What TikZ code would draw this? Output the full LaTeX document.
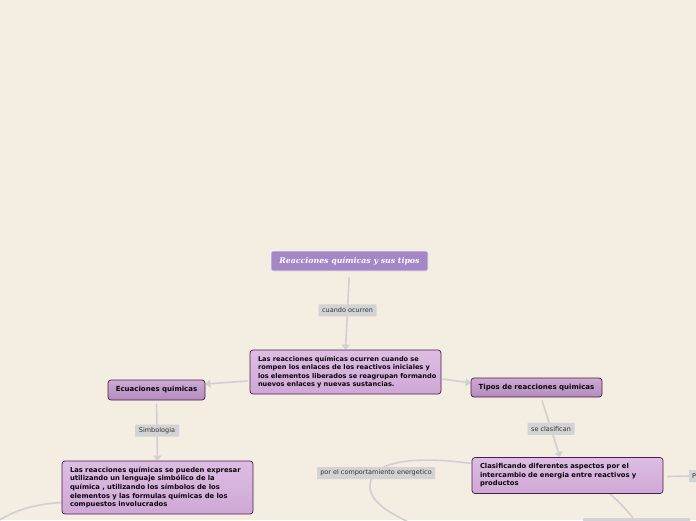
\documentclass[tikz,border=0pt]{standalone}
\usepackage{fontspec}
\setmainfont{DejaVu Sans}
\newfontfamily\titlefont{DejaVu Serif}
\usetikzlibrary{arrows.meta,calc,backgrounds}
\hfuzz=30pt
\definecolor{bg}{HTML}{F3EDE2}
\definecolor{conn}{HTML}{D0D0D0}
\definecolor{lbl}{HTML}{D3D3D3}
\definecolor{lbltext}{HTML}{333333}
\definecolor{titlefill}{HTML}{A387C6}
\definecolor{topicborder}{HTML}{4A1E4A}
\definecolor{topictop}{HTML}{DDBDE3}
\definecolor{topicbot}{HTML}{CFA8D6}
\definecolor{headtop}{HTML}{CDA9D4}
\definecolor{headbot}{HTML}{B38CBC}
\tikzset{
  titlebox/.style={rectangle, rounded corners=2pt, fill=titlefill, draw=white!85!titlefill, line width=0.6pt,
    text=white, font=\titlefont\bfseries\itshape\fontsize{7.8}{9}\selectfont, inner sep=0pt},
  topicbox/.style={rectangle, rounded corners=3pt, draw=topicborder, line width=0.7pt,
    top color=topictop, bottom color=topicbot, text=black!85!topicborder,
    font=\bfseries\fontsize{6.8}{8.6}\selectfont, align=left, inner sep=0pt, text width=175pt},
  headbox/.style={rectangle, rounded corners=3pt, draw=topicborder, line width=0.7pt,
    top color=headtop, bottom color=headbot, text=black!85!topicborder,
    font=\bfseries\fontsize{7}{8}\selectfont, inner sep=0pt},
  lblbox/.style={rectangle, fill=lbl, text=lbltext, font=\fontsize{6.5}{7.5}\selectfont,
    inner sep=0pt, rounded corners=0.5pt, minimum height=12pt},
  conline/.style={draw=conn, line width=1.6pt},
  conarrow/.style={conline, -{Triangle[width=8pt,length=5pt]}},
}
\begin{document}
\begin{tikzpicture}[x=1pt,y=-1pt]
\useasboundingbox (0,0) rectangle (696,520);

\coordinate (leftend) at (-2,521);
\coordinate (botend) at (412,524);

\node[titlebox, minimum width=157pt, minimum height=20pt] (title) at (349.5,261) {Reacciones químicas y sus tipos};
\node[topicbox, minimum width=191pt, minimum height=44pt, font=\bfseries\fontsize{6.6}{8.6}\selectfont] (main) at (345.5,372)
  {\mbox{Las reacciones químicas ocurren cuando se}\\\mbox{rompen los enlaces de los reactivos iniciales y}\\\mbox{los elementos liberados se reagrupan formando}\\\mbox{nuevos enlaces y nuevas sustancias.}};
\node[headbox, minimum width=97pt, minimum height=20pt] (ecu) at (156.5,390) {Ecuaciones quimicas};
\node[headbox, minimum width=131pt, minimum height=19pt] (tipos) at (536.5,387.5) {Tipos de reacciones quimicas};
\node[topicbox, minimum width=191pt, minimum height=53pt] (expr) at (157.5,487.5)
  {\mbox{Las reacciones químicas se pueden expresar}\\\mbox{utilizando un lenguaje simbólico de la}\\\mbox{química , utilizando los símbolos de los}\\\mbox{elementos y las formulas químicas de los}\\\mbox{compuestos involucrados}};
\node[topicbox, minimum width=191pt, minimum height=36pt] (clas) at (567.5,475.5)
  {\mbox{Clasificando diferentes aspectos por el}\\\mbox{intercambio de energia entre reactivos y}\\\mbox{productos}};
\node[lblbox, minimum width=22pt, anchor=west, align=left, text width=20pt] (pbox) at (689,476) {\hspace{2pt}P};
\node[lblbox, minimum width=107pt, anchor=north] (bbox) at (636.5,518) {};

\begin{scope}[on background layer]
\fill[bg] (0,0) rectangle (696,520);
\draw[conarrow, shorten <=6pt] (title.south) -- node[lblbox, minimum width=58pt] (l1) {cuando ocurren} (main.north);
\draw[conarrow] ($(main.west)+(-2,9)$) -- ($(ecu.east)+(0,-6)$);
\draw[conarrow] ($(main.east)+(1,7)$) -- ($(tipos.west)+(0,-4.5)$);
\draw[conarrow, shorten <=3pt] (ecu.south) -- node[lblbox, minimum width=44pt] (l2) {Simbologia} (expr.north);
\draw[conarrow] ($(tipos.south)+(5.5,3)$) -- node[lblbox, minimum width=47pt] (l3) {se clasifican} ($(clas.north)+(-7.5,0)$);
\draw[conline] ($(clas.east)+(4,1)$) -- (pbox.west);
\draw[conline] ($(clas.south)+(42.5,0)$) .. controls (618,501) and (626,509) .. ($(bbox.north)+(-3.5,0)$);
\draw[conline] ($(expr.west)+(0,15)$) .. controls (35,504) and (15,510) .. (leftend);
\draw[conline] ($(clas.west)+(0,-12)$) .. controls (410,455) and (368,462) .. (370,488)
  .. controls (372,505) and (395,515) .. (botend);
\node[lblbox, minimum width=118pt] (l4) at (376,473) {por el comportamiento energetico};
\end{scope}
\end{tikzpicture}
\end{document}
